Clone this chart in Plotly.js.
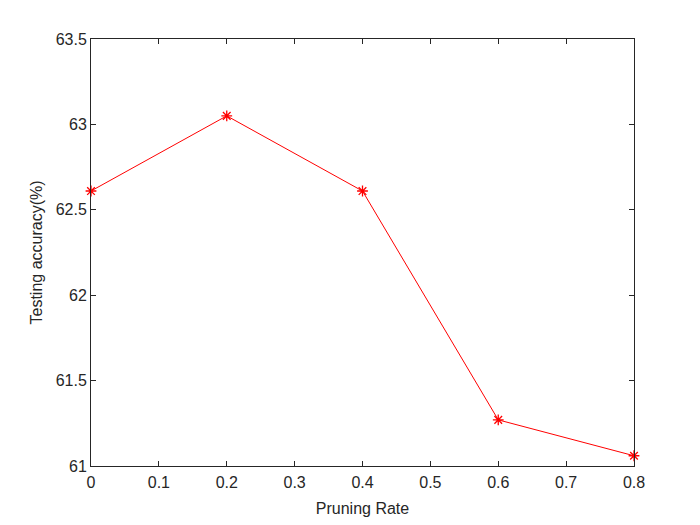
<!DOCTYPE html>
<html>
<head>
<meta charset="utf-8">
<script src="https://cdn.plot.ly/plotly-3.0.1.min.js"></script>
<style>
  body { margin: 0; background: #fff; }
  #chart { width: 700px; height: 525px; }
</style>
</head>
<body>
<div id="chart"></div>
<script>
// pruning rate vs testing accuracy
var pruningRate = [0, 0.2, 0.4, 0.6, 0.8];
var accuracy = [62.61, 63.05, 62.61, 61.27, 61.06];
var xTicks = [0, 0.1, 0.2, 0.3, 0.4, 0.5, 0.6, 0.7, 0.8];
var yTicks = [61, 61.5, 62, 62.5, 63, 63.5];

var fontFam = 'Liberation Sans, Arial, sans-serif';

var trace = {
  x: pruningRate,
  y: accuracy,
  mode: 'lines+markers',
  line: {color: '#ff0000', width: 1},
  marker: {symbol: 'asterisk-open', size: 9, color: '#ff0000', line: {color: '#ff0000', width: 1.3}},
  cliponaxis: false,
  showlegend: false
};

var axisCommon = {
  showline: true,
  linecolor: '#262626',
  linewidth: 1,
  mirror: 'ticks',
  ticks: 'inside',
  ticklen: 5,
  tickcolor: '#262626',
  showgrid: false,
  zeroline: false,
  tickfont: {family: fontFam, size: 16, color: '#262626'}
};

var layout = {
  width: 700,
  height: 525,
  margin: {l: 91, r: 66, t: 39, b: 59},
  paper_bgcolor: '#ffffff',
  plot_bgcolor: '#ffffff',
  xaxis: Object.assign({}, axisCommon, {
    range: [0, 0.8],
    tickvals: xTicks,
    ticktext: xTicks.map(String),
    ticklabelstandoff: 2,
    title: {text: 'Pruning Rate', standoff: 12, font: {family: fontFam, size: 16, color: '#262626'}}
  }),
  yaxis: Object.assign({}, axisCommon, {
    range: [61, 63.5],
    tickvals: yTicks,
    ticktext: yTicks.map(String),
    title: {text: 'Testing accuracy(%)', standoff: 9, font: {family: fontFam, size: 16, color: '#262626'}}
  })
};

Plotly.newPlot('chart', [trace], layout, {displayModeBar: false, staticPlot: true});
</script>
</body>
</html>
